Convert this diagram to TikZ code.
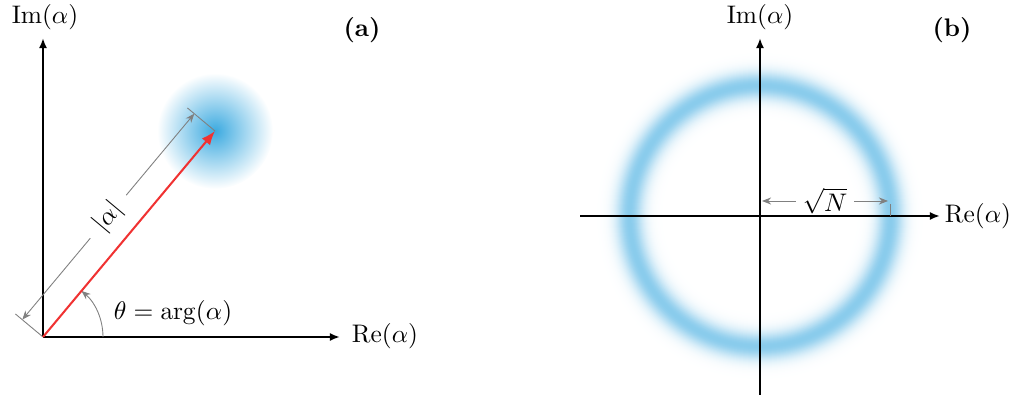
\documentclass[tikz,border=0pt]{standalone}
\usetikzlibrary{arrows.meta,calc}
\definecolor{qblue}{RGB}{60,170,224}
\definecolor{qred}{RGB}{240,50,50}
\definecolor{qgray}{RGB}{128,128,128}
\begin{document}
\begin{tikzpicture}[x=0.3937pt,y=0.3937pt,
  axis/.style={line width=0.8pt,-{Latex[length=4pt,width=3.2pt]}},
  dimline/.style={qgray,line width=0.35pt},
  dimtip/.style={dimline,-{Stealth[length=3.6pt,width=2.8pt]}},
  dimboth/.style={dimline,{Stealth[length=3.6pt,width=2.8pt]}-{Stealth[length=3.6pt,width=2.8pt]}},
  vec/.style={qred,line width=0.8pt,-{Latex[length=5.5pt,width=4.2pt]}}]
\useasboundingbox (0,0) rectangle (1016,399);
% ---------------- panel (a)
\coordinate (O) at (43,62);
\coordinate (P) at (215,268);
\coordinate (Xa) at (340,62);
\coordinate (Ya) at (43,361);
\shade[inner color=qblue, outer color=white] (P) circle (58);
\draw[axis] (O) -- (Xa);
\draw[axis] (O) -- (Ya);
\node (rea) at (385,63) {Re$(\alpha)$};
\node (ima) at (45,382) {Im$(\alpha)$};
\node (la) at (362,369) {\textbf{(a)}};
% dimension |alpha|
\coordinate (O1) at ($(O)!0.134!90:(P)$);
\coordinate (P1) at ($(P)!0.134!-90:(O)$);
\coordinate (O2) at ($(O)!0.1006!90:(P)$);
\coordinate (P2) at ($(P)!0.1006!-90:(O)$);
\draw[dimline] (O) -- (O1);
\draw[dimline] (P) -- (P1);
\draw[dimboth] (O2) -- (P2) node[midway, sloped, fill=white, text=black, inner xsep=5pt, inner ysep=0.5pt] (abs) {$|\alpha|$};
% angle
\coordinate (A0) at ($(O)+(60,0)$);
\draw[dimtip] (A0) arc[start angle=0, end angle=50.14, radius=60];
\node (th) at (173,86) {$\theta=\arg(\alpha)$};
% vector
\draw[vec] (O) -- (P);
% ---------------- panel (b)
\coordinate (C) at (760,183);
\foreach \i in {-66,...,66} {
  \pgfmathsetmacro\p{60*exp(-(\i/27)^2)}
  \draw[qblue!\p!white, line width=0.6pt] (C) circle ({131+\i/2});
}
\coordinate (Xb0) at (580,183);
\coordinate (Xb1) at (940,183);
\coordinate (Yb0) at (760,4);
\coordinate (Yb1) at (760,361);
\draw[axis] (Xb0) -- (Xb1);
\draw[axis] (Yb0) -- (Yb1);
\node (reb) at (978,183) {Re$(\alpha)$};
\node (imb) at (760,382) {Im$(\alpha)$};
\node (lb) at (952,369) {\textbf{(b)}};
\coordinate (T0) at (890,183);
\coordinate (T1) at (890,195);
\draw[dimline] (T0) -- (T1);
\coordinate (D0) at (762,198);
\coordinate (D1) at (888,198);
\node[inner xsep=2.6pt] (sq) at (825,198) {$\sqrt{N}$};
\draw[dimtip] (sq.west) -- (D0);
\draw[dimtip] (sq.east) -- (D1);
\end{tikzpicture}
\end{document}
